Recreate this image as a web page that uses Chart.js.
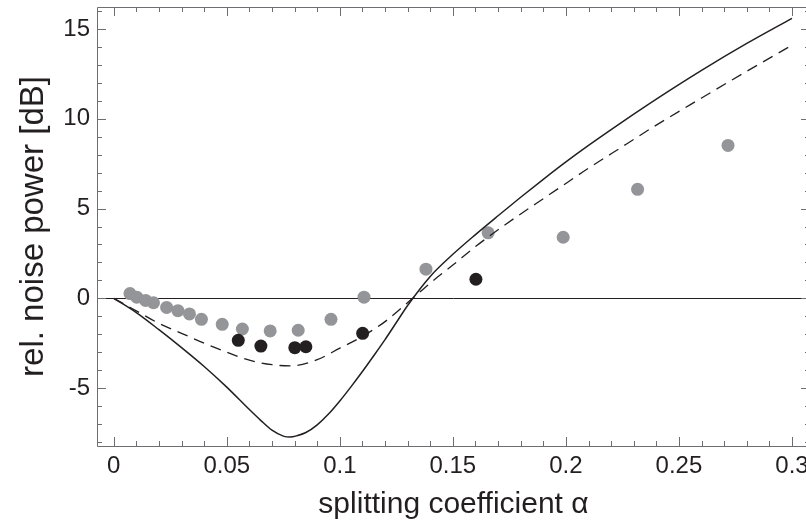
<!DOCTYPE html>
<html>
<head>
<meta charset="utf-8">
<script src="https://cdn.jsdelivr.net/npm/chart.js@4/dist/chart.umd.min.js"></script>
<style>
  html, body { margin: 0; padding: 0; background: #ffffff; overflow: hidden; width: 806px; height: 527px; }
  #wrap { width: 810px; height: 527px; }
</style>
</head>
<body>
<div id="wrap"><canvas id="c" width="810" height="527"></canvas></div>
<script>
// ---- data ----
const solidAlpha = [0, 0.01, 0.02, 0.03, 0.04, 0.05, 0.06, 0.065, 0.07, 0.075, 0.078, 0.081, 0.085, 0.09, 0.095, 0.1, 0.105, 0.11, 0.115, 0.12, 0.125, 0.13, 0.14, 0.15, 0.16, 0.17, 0.18, 0.19, 0.2, 0.21, 0.22, 0.23, 0.24, 0.26, 0.28, 0.3];
const solidDb    = [0, -0.8, -1.75, -2.75, -3.8, -4.95, -6.2, -6.8, -7.35, -7.68, -7.73, -7.66, -7.48, -7.05, -6.45, -5.72, -4.92, -4.08, -3.2, -2.3, -1.35, -0.4, 1.22, 2.45, 3.55, 4.6, 5.63, 6.63, 7.6, 8.52, 9.4, 10.26, 11.1, 12.7, 14.2, 15.6];

const dashAlpha = [0, 0.01, 0.02, 0.03, 0.04, 0.05, 0.06, 0.07, 0.078, 0.09, 0.1, 0.11, 0.12, 0.1322, 0.14, 0.15, 0.16, 0.17, 0.18, 0.19, 0.2, 0.21, 0.22, 0.24, 0.26, 0.28, 0.3];
const dashDb    = [0, -0.7, -1.4, -1.95, -2.5, -3.0, -3.45, -3.7, -3.77, -3.42, -2.78, -2.12, -1.3, 0, 0.85, 1.85, 2.88, 3.82, 4.7, 5.55, 6.4, 7.25, 8.05, 9.65, 11.16, 12.65, 14.1];

const grayAlpha = [0.0072, 0.0102, 0.0141, 0.0176, 0.0234, 0.0284, 0.0335, 0.0388, 0.048, 0.0569, 0.0692, 0.0816, 0.0961, 0.1107, 0.1381, 0.1656, 0.1988, 0.2317, 0.2717];
const grayDb    = [0.26, 0.06, -0.12, -0.25, -0.51, -0.69, -0.87, -1.17, -1.45, -1.71, -1.82, -1.78, -1.17, 0.06, 1.62, 3.65, 3.4, 6.07, 8.52];

const blackAlpha = [0.0551, 0.0651, 0.0801, 0.085, 0.1101, 0.1602];
const blackDb    = [-2.34, -2.66, -2.75, -2.7, -1.95, 1.06];

const xTickValues = [0, 0.05, 0.1, 0.15, 0.2, 0.25, 0.3];
const xTickLabels = ['0', '0.05', '0.1', '0.15', '0.2', '0.25', '0.3'];
const yTickValues = [-5, 0, 5, 10, 15];
const yTickLabels = ['-5', '0', '5', '10', '15'];

const xTitle = 'splitting coefficient \u03b1';
const yTitle = 'rel. noise power [dB]';

// ---- helpers ----
const pts = (xs, ys) => xs.map((x, i) => ({ x: x, y: ys[i] }));

const FONT = "'Liberation Sans', Arial, Helvetica, sans-serif";
const INK = '#231f20';
const FRAME = '#6d6e71';

// frame with inward major/minor ticks on all four sides
const framePlugin = {
  id: 'frameTicks',
  afterDraw(chart) {
    const { ctx, chartArea: a, scales: { x, y } } = chart;
    ctx.save();
    ctx.strokeStyle = FRAME;
    ctx.lineWidth = 1;
    ctx.beginPath();
    ctx.rect(Math.round(a.left) + 0.5, Math.round(a.top) + 0.5,
             Math.round(a.right - a.left), Math.round(a.bottom - a.top));
    ctx.stroke();
    const MAJ = 9, MIN = 5;
    ctx.beginPath();
    for (let k = 0; k <= 30; k++) {
      const v = k / 100;
      const px = Math.round(x.getPixelForValue(v)) + 0.5;
      if (px < a.left || px > a.right) continue;
      const len = (k % 5 === 0) ? MAJ : MIN;
      ctx.moveTo(px, a.bottom); ctx.lineTo(px, a.bottom - len);
      ctx.moveTo(px, a.top); ctx.lineTo(px, a.top + len);
    }
    for (let k = -8; k <= 16; k++) {
      const py = Math.round(y.getPixelForValue(k)) + 0.5;
      if (py < a.top || py > a.bottom) continue;
      const len = (k % 5 === 0) ? MAJ : MIN;
      ctx.moveTo(a.left, py); ctx.lineTo(a.left + len, py);
      ctx.moveTo(a.right, py); ctx.lineTo(a.right - len, py);
    }
    ctx.stroke();
    ctx.restore();
  }
};

new Chart(document.getElementById('c'), {
  type: 'scatter',
  data: {
    datasets: [
      {
        label: 'solid',
        data: pts(solidAlpha, solidDb),
        showLine: true,
        borderColor: INK,
        borderWidth: 1.5,
        pointRadius: 0,
        fill: false,
        cubicInterpolationMode: 'monotone',
        order: 0
      },
      {
        label: 'dashed',
        data: pts(dashAlpha, dashDb),
        showLine: true,
        borderColor: INK,
        borderWidth: 1.3,
        borderDash: [11, 7],
        pointRadius: 0,
        fill: false,
        cubicInterpolationMode: 'monotone',
        order: 1
      },
      {
        label: 'black',
        data: pts(blackAlpha, blackDb),
        backgroundColor: INK,
        borderWidth: 0,
        pointRadius: 6.5,
        order: 2
      },
      {
        label: 'gray',
        data: pts(grayAlpha, grayDb),
        backgroundColor: '#939598',
        borderWidth: 0,
        pointRadius: 6.5,
        order: 3
      }
    ]
  },
  options: {
    responsive: false,
    animation: false,
    devicePixelRatio: 1,
    layout: { autoPadding: false, padding: { top: 7, right: 0, left: 0, bottom: 0 } },
    plugins: { legend: { display: false }, tooltip: { enabled: false } },
    scales: {
      x: {
        type: 'linear',
        min: -0.00739,
        max: 0.30796,
        afterBuildTicks: s => { s.ticks = xTickValues.map(v => ({ value: v })); },
        afterFit: s => { s.height = 81; s.paddingLeft = 0; s.paddingRight = 0; },
        grid: { display: false, drawTicks: false },
        border: { display: false },
        ticks: {
          autoSkip: false,
          maxRotation: 0,
          padding: 6,
          color: INK,
          font: { family: FONT, size: 24 },
          callback: (v) => { const i = xTickValues.indexOf(v); return i >= 0 ? xTickLabels[i] : ''; }
        },
        title: {
          display: true,
          text: xTitle,
          color: INK,
          font: { family: FONT, size: 30, lineHeight: 1 },
          padding: { top: 0, bottom: 7 }
        }
      },
      y: {
        type: 'linear',
        min: -8.23,
        max: 16.23,
        afterBuildTicks: s => { s.ticks = yTickValues.map(v => ({ value: v })); },
        afterFit: s => { s.width = 97; s.paddingTop = 0; s.paddingBottom = 0; },
        grid: {
          drawTicks: false,
          lineWidth: 1,
          color: c => (c.tick && c.tick.value === 0) ? INK : 'rgba(0,0,0,0)'
        },
        border: { display: false },
        ticks: {
          autoSkip: false,
          padding: 7,
          color: INK,
          font: { family: FONT, size: 24 },
          callback: (v) => { const i = yTickValues.indexOf(v); return i >= 0 ? yTickLabels[i] : ''; }
        },
        title: {
          display: true,
          text: yTitle,
          color: INK,
          font: { family: FONT, size: 33, lineHeight: 1 },
          padding: { top: 17, bottom: 0 }
        }
      }
    }
  },
  plugins: [framePlugin]
});
</script>
</body>
</html>
